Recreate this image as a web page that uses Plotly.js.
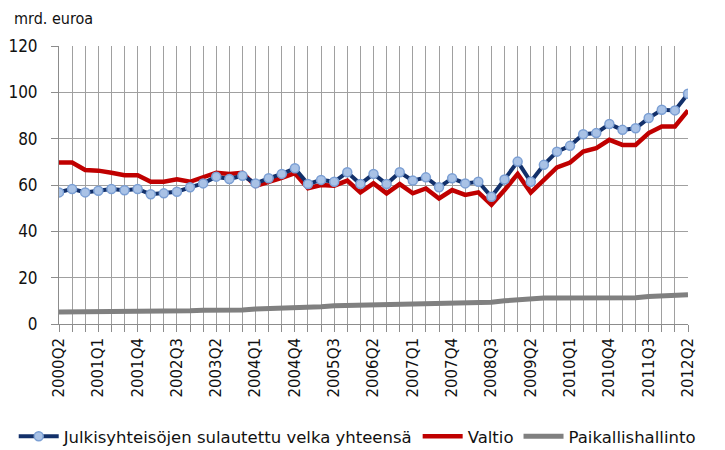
<!DOCTYPE html>
<html>
<head>
<meta charset="utf-8">
<script src="https://cdn.plot.ly/plotly-3.0.1.min.js"></script>
<style>html,body{margin:0;padding:0;background:#fff;}#chart{width:725px;height:450px;}</style>
</head>
<body>
<div id="chart"></div>
<script>
const quarters = [
  "2000Q2","2000Q3","2000Q4",
  "2001Q1","2001Q2","2001Q3","2001Q4",
  "2002Q1","2002Q2","2002Q3","2002Q4",
  "2003Q1","2003Q2","2003Q3","2003Q4",
  "2004Q1","2004Q2","2004Q3","2004Q4",
  "2005Q1","2005Q2","2005Q3","2005Q4",
  "2006Q1","2006Q2","2006Q3","2006Q4",
  "2007Q1","2007Q2","2007Q3","2007Q4",
  "2008Q1","2008Q2","2008Q3","2008Q4",
  "2009Q1","2009Q2","2009Q3","2009Q4",
  "2010Q1","2010Q2","2010Q3","2010Q4",
  "2011Q1","2011Q2","2011Q3","2011Q4",
  "2012Q1","2012Q2"
];
const tickLabels = ["2000Q2","2001Q1","2001Q4","2002Q3","2003Q2","2004Q1","2004Q4","2005Q3","2006Q2","2007Q1","2007Q4","2008Q3","2009Q2","2010Q1","2010Q4","2011Q3","2012Q2"];

const total = [56.8,58.3,56.8,57.5,58.3,57.7,58.3,56.0,56.4,57.1,59.0,60.7,63.6,62.6,64.0,60.7,62.9,64.8,67.2,60.4,62.2,61.4,65.5,60.4,64.8,60.4,65.5,61.9,63.3,59.0,62.9,60.7,61.4,54.9,62.4,70.1,61.4,68.7,74.4,76.9,81.9,82.4,86.3,83.8,84.5,88.9,92.5,92.2,99.4];
const valtio = [69.7,69.7,66.5,66.2,65.3,64.2,64.2,61.4,61.4,62.5,61.4,63.6,65.3,64.8,65.3,59.6,61.2,63.1,65.1,58.6,60.0,59.7,61.9,56.8,60.7,56.4,60.4,56.4,58.5,54.2,57.8,55.7,56.8,51.5,57.8,64.8,56.7,62.2,67.6,69.7,74.4,75.9,79.5,77.3,77.3,82.4,85.3,85.3,92.2];
const paikallis = [5.2,5.2,5.2,5.2,5.2,5.2,5.2,5.2,5.2,5.2,5.7,5.9,5.9,5.9,6.0,6.5,6.6,6.7,7.2,7.3,7.5,7.9,8.0,8.2,8.5,8.5,8.5,8.6,9.1,9.2,9.3,9.3,9.3,9.4,10.0,10.5,11.1,11.2,11.2,11.2,11.2,11.2,11.3,11.3,11.3,11.9,12.0,12.2,12.6];

const seriesNames = ["Julkisyhteisöjen sulautettu velka yhteensä","Valtio","Paikallishallinto"];
const yTicks = [0,20,40,60,80,100,120];

const gridCol = "#a0a0a0";
const traces = [
  {x: quarters, y: paikallis, name: seriesNames[2], type: "scatter", mode: "lines",
   line: {color: "#808080", width: 5}, legendrank: 3},
  {x: quarters, y: valtio, name: seriesNames[1], type: "scatter", mode: "lines",
   line: {color: "#c00000", width: 4.5}, legendrank: 2},
  {x: quarters, y: total, name: seriesNames[0], type: "scatter", mode: "lines+markers",
   line: {color: "#12306a", width: 4},
   marker: {symbol: "circle", size: 9, color: "#a9c2e6", line: {color: "#7b9fd4", width: 1.5}},
   legendrank: 1}
];

const layout = {
  width: 725, height: 450,
  margin: {l: 59, r: 37, t: 46, b: 126, autoexpand: false},
  paper_bgcolor: "#ffffff", plot_bgcolor: "#ffffff",
  showlegend: true,
  font: {family: "DejaVu Sans, Verdana, sans-serif", color: "#111"},
  xaxis: {
    type: "category",
    range: [0, quarters.length - 1],
    tickmode: "array",
    tickvals: quarters,
    ticktext: quarters.map(q => tickLabels.includes(q) ? q : ""),
    tickangle: -90,
    tickfont: {family: "DejaVu Sans, sans-serif", size: 15, color: "#111"},
    showgrid: true, gridcolor: gridCol, gridwidth: 1,
    showline: true, linecolor: "#8c8c8c", linewidth: 1,
    ticks: "outside", ticklen: 7, tickcolor: "#8c8c8c", tickwidth: 1,
    zeroline: false, fixedrange: true
  },
  yaxis: {
    range: [0, 120],
    tickmode: "array", tickvals: yTicks, ticktext: yTicks.map(String),
    tickfont: {family: "DejaVu Sans Condensed, DejaVu Sans, sans-serif", size: 17, color: "#111"},
    showgrid: true, gridcolor: gridCol, gridwidth: 1,
    showline: true, linecolor: "#8c8c8c", linewidth: 1,
    ticks: "outside", ticklen: 7, tickcolor: "#8c8c8c", tickwidth: 1,
    ticklabelstandoff: 10,
    zeroline: false, fixedrange: true
  },
  legend: {
    orientation: "h",
    xref: "paper", yref: "paper",
    x: -0.072, xanchor: "left",
    y: -0.405, yanchor: "middle",
    font: {family: "DejaVu Sans, sans-serif", size: 16.5, color: "#111"},
    bgcolor: "rgba(0,0,0,0)",
    itemwidth: 40
  },
  annotations: [{
    text: "mrd. euroa",
    xref: "paper", yref: "paper",
    x: -0.075, y: 1.10, xanchor: "left", yanchor: "middle",
    showarrow: false,
    font: {family: "DejaVu Sans Condensed, DejaVu Sans, sans-serif", size: 16, color: "#111"}
  }]
};

Plotly.newPlot("chart", traces, layout, {staticPlot: true, displayModeBar: false});
</script>
</body>
</html>
